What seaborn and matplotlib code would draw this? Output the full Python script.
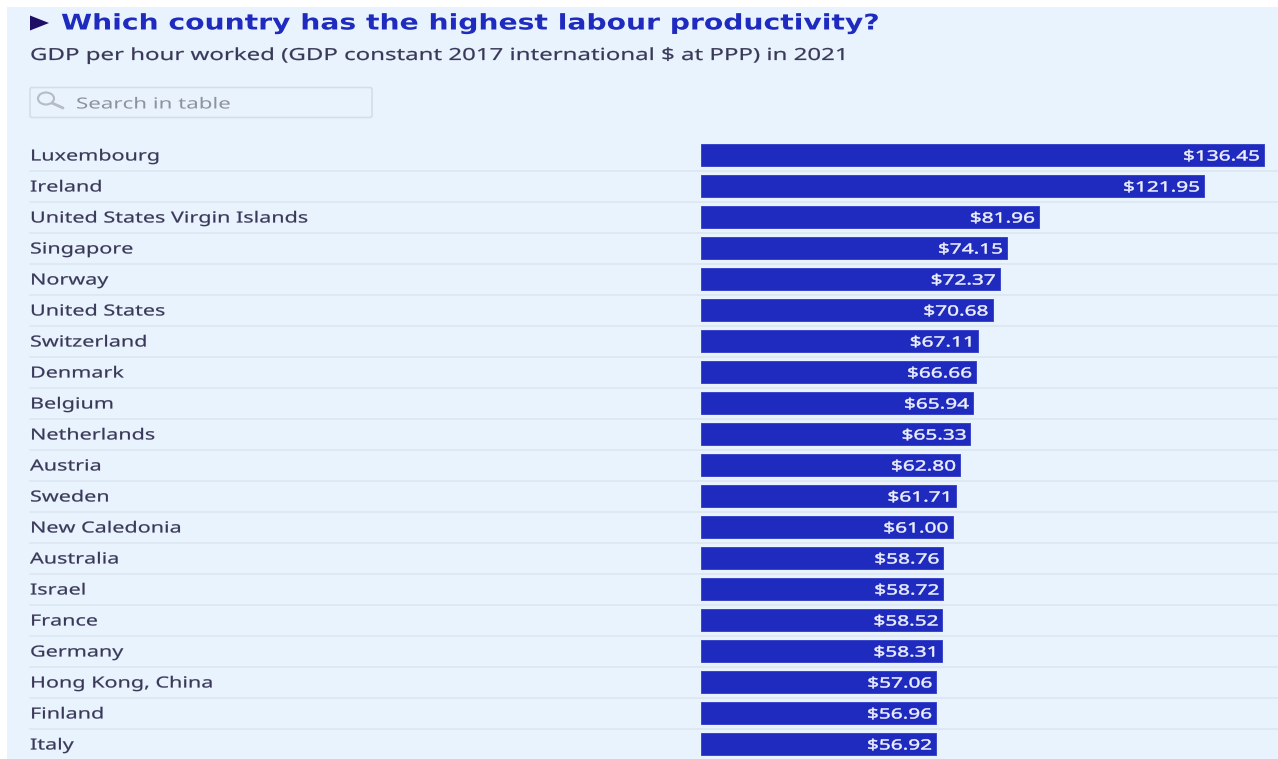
import matplotlib
matplotlib.use("Agg")
import matplotlib.pyplot as plt
import matplotlib.patches as mpatches
from matplotlib.patheffects import AbstractPathEffect
from matplotlib.transforms import Affine2D
import pandas as pd
import seaborn as sns

countries = ["Luxembourg", "Ireland", "United States Virgin Islands", "Singapore", "Norway",
             "United States", "Switzerland", "Denmark", "Belgium", "Netherlands", "Austria",
             "Sweden", "New Caledonia", "Australia", "Israel", "France", "Germany",
             "Hong Kong, China", "Finland", "Italy"]
productivity = [136.45, 121.95, 81.96, 74.15, 72.37, 70.68, 67.11, 66.66, 65.94, 65.33, 62.80,
                61.71, 61.00, 58.76, 58.72, 58.52, 58.31, 57.06, 56.96, 56.92]

title_text = "Which country has the highest labour productivity?"
subtitle_text = "GDP per hour worked (GDP constant 2017 international $ at PPP) in 2021"
search_text = "Search in table"

W, H = 1278, 759
PANEL = "#E8F3FD"
BAR = "#1F2BBE"
INK = "#3A3858"
RULE = "#DBE5EF"


class WideText(AbstractPathEffect):
    """Widen a text run horizontally and thicken its strokes, keeping one end in place."""

    def __init__(self, factor, anchor="left", weight=0.0):
        super().__init__()
        self.factor = factor
        self.anchor = anchor
        self.weight = weight

    def draw_path(self, renderer, gc, tpath, affine, rgbFace=None):
        pivot = tpath.get_extents().x1 if self.anchor == "right" else 0.0
        widen = Affine2D().translate(-pivot, 0).scale(self.factor, 1).translate(pivot, 0)
        pen = renderer.new_gc()
        pen.copy_properties(gc)
        if self.weight:
            pen.set_linewidth(self.weight)
            pen.set_foreground(rgbFace)
        renderer.draw_path(pen, tpath, widen + affine, rgbFace)
        pen.restore()


sns.set_theme(style="white")
plt.rcParams["font.family"] = ["Noto Sans", "DejaVu Sans"]

fig = plt.figure(figsize=(W / 100, H / 100), dpi=100, facecolor="white")

# Page layer measured in pixels from the top-left corner
page = fig.add_axes([0, 0, 1, 1], zorder=0)
page.set_xlim(0, W)
page.set_ylim(H, 0)
page.axis("off")
page.add_patch(mpatches.Rectangle((7, 7), W - 7, H - 7, fc=PANEL, ec="none"))

page.add_patch(mpatches.Polygon([(30, 15.5), (49, 23), (30, 30.5)], closed=True, fc="#1E0F66", ec="none"))
page.text(61, 23.5, title_text, fontsize=15.5, fontweight="bold", family="DejaVu Sans", color=BAR,
          va="center", ha="left", path_effects=[WideText(1.31)])
page.text(30, 56, subtitle_text, fontsize=12, color=INK, va="center", ha="left",
          path_effects=[WideText(1.44, weight=0.15)])

page.add_patch(mpatches.FancyBboxPatch((30, 87.5), 342, 30, boxstyle="round,pad=0,rounding_size=2",
                                       fc=PANEL, ec="#D5DEE6", lw=1.2))
page.add_patch(mpatches.Ellipse((46, 98.5), 16, 12, fc="none", ec="#B4BCC6", lw=1.5))
page.plot([52, 63], [103, 108], color="#B4BCC6", lw=2, solid_capstyle="round")
page.text(76, 105, search_text, fontsize=11, color="#8D929C", va="center", ha="left",
          path_effects=[WideText(1.46)])

# Rows repeat every 31 px, with the first centred at y = 155
ROW_H, FIRST_Y, BAR_X0, PX_PER_UNIT = 31, 155, 701, 4.125
for i, name in enumerate(countries):
    y = FIRST_Y + ROW_H * i
    page.text(30, y + 2, name, fontsize=11, color=INK, va="center", ha="left",
              path_effects=[WideText(1.41, weight=0.15)])
    if i < len(countries) - 1:
        page.plot([30, W], [y + 15.5, y + 15.5], color=RULE, lw=1.1)

# Bar layer: value scale starts at the left edge of the bar column
top = FIRST_Y - ROW_H / 2
ax = fig.add_axes([BAR_X0 / W, 0, 1 - BAR_X0 / W, 1 - top / H], zorder=1)
ax.patch.set_alpha(0)
frame = pd.DataFrame({"country": countries, "productivity": productivity})
sns.barplot(data=frame, x="productivity", y="country", order=countries, orient="h",
            color=BAR, saturation=1, width=22 / ROW_H, edgecolor="#3A46C9", linewidth=0.7, ax=ax)
ax.set_xlim(0, (W - BAR_X0) / PX_PER_UNIT)
ax.set_ylim((H - FIRST_Y) / ROW_H, -0.5)
ax.axis("off")

for i, value in enumerate(productivity):
    ax.annotate(f"${value:.2f}", (value, i), xytext=(-4, -2), textcoords="offset pixels",
                ha="right", va="center", color="#EEF1FC", fontsize=10.2,
                path_effects=[WideText(1.47, anchor="right", weight=0.35)])

fig.savefig("out.png", dpi=100, facecolor="white")
